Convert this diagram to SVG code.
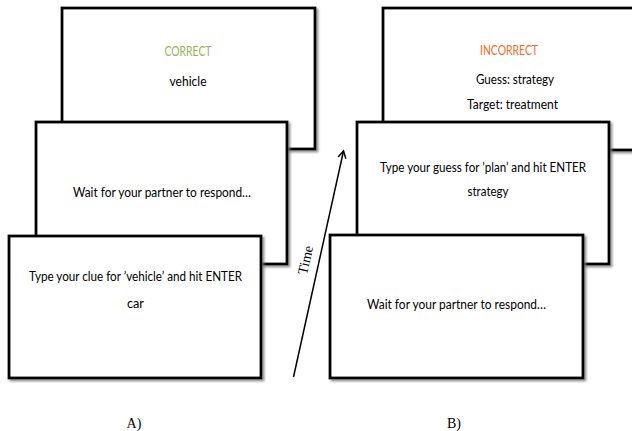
<svg xmlns="http://www.w3.org/2000/svg" width="632" height="431" viewBox="0 0 632 431">
<style>
.card{fill:#fff;stroke:#000;stroke-width:2.8;filter:url(#sh)}
.t{font-family:Lato,"Open Sans","Liberation Sans",sans-serif;font-size:12.5px;fill:#000;text-anchor:middle}
.lab{font-family:"Liberation Serif",serif;font-size:14px;fill:#000;text-anchor:middle}
</style>
<defs>
<filter id="sh" x="-5%" y="-5%" width="115%" height="115%">
<feDropShadow dx="2" dy="2" stdDeviation="1" flood-color="#777" flood-opacity="0.8"/>
</filter>
<marker id="ah" markerWidth="10" markerHeight="10" refX="8" refY="5" orient="auto" markerUnits="userSpaceOnUse">
<path d="M1,1 L8,5 L1,9" fill="none" stroke="#000" stroke-width="1.5"/>
</marker>
</defs>
<rect width="632" height="431" fill="#fff"/>
<g id="a-feedback">
<rect class="card" x="62" y="8" width="253" height="141"/>
<text class="t" x="188" y="56" style="fill:#8DB652" textLength="47" lengthAdjust="spacingAndGlyphs">CORRECT</text>
<text class="t" x="188" y="86" textLength="37" lengthAdjust="spacingAndGlyphs">vehicle</text>
</g>
<g id="a-wait">
<rect class="card" x="36" y="122" width="251" height="142"/>
<text class="t" x="162" y="197" textLength="178" lengthAdjust="spacingAndGlyphs">Wait for your partner to respond…</text>
</g>
<g id="a-clue">
<rect class="card" x="9" y="236" width="252" height="142"/>
<text class="t" x="135.5" y="281" textLength="213" lengthAdjust="spacingAndGlyphs">Type your clue for ’vehicle’ and hit ENTER</text>
<text class="t" x="135.5" y="308" textLength="17" lengthAdjust="spacingAndGlyphs">car</text>
</g>
<g id="b-feedback">
<rect class="card" x="383" y="8" width="262" height="142"/>
<text class="t" x="509" y="55" style="fill:#F26B22" textLength="58" lengthAdjust="spacingAndGlyphs">INCORRECT</text>
<text class="t" x="515" y="84" textLength="78" lengthAdjust="spacingAndGlyphs">Guess: strategy</text>
<text class="t" x="512.5" y="109" textLength="91" lengthAdjust="spacingAndGlyphs">Target: treatment</text>
</g>
<g id="b-guess">
<rect class="card" x="357" y="122" width="252" height="142"/>
<text class="t" x="483" y="172" textLength="206" lengthAdjust="spacingAndGlyphs">Type your guess for ’plan’ and hit ENTER</text>
<text class="t" x="488" y="196" textLength="41" lengthAdjust="spacingAndGlyphs">strategy</text>
</g>
<g id="b-wait">
<rect class="card" x="330" y="235" width="253" height="143"/>
<text class="t" x="456.5" y="309" textLength="179" lengthAdjust="spacingAndGlyphs">Wait for your partner to respond…</text>
</g>
<g id="connectors">
<line x1="293.5" y1="377" x2="343.5" y2="151" stroke="#000" stroke-width="1.5" marker-end="url(#ah)"/>
<text class="lab" x="310" y="261" transform="rotate(-77 310 261)">Time</text>
</g>
<g id="labels">
<text class="lab" x="134" y="428">A)</text>
<text class="lab" x="454" y="428">B)</text>
</g>
</svg>
